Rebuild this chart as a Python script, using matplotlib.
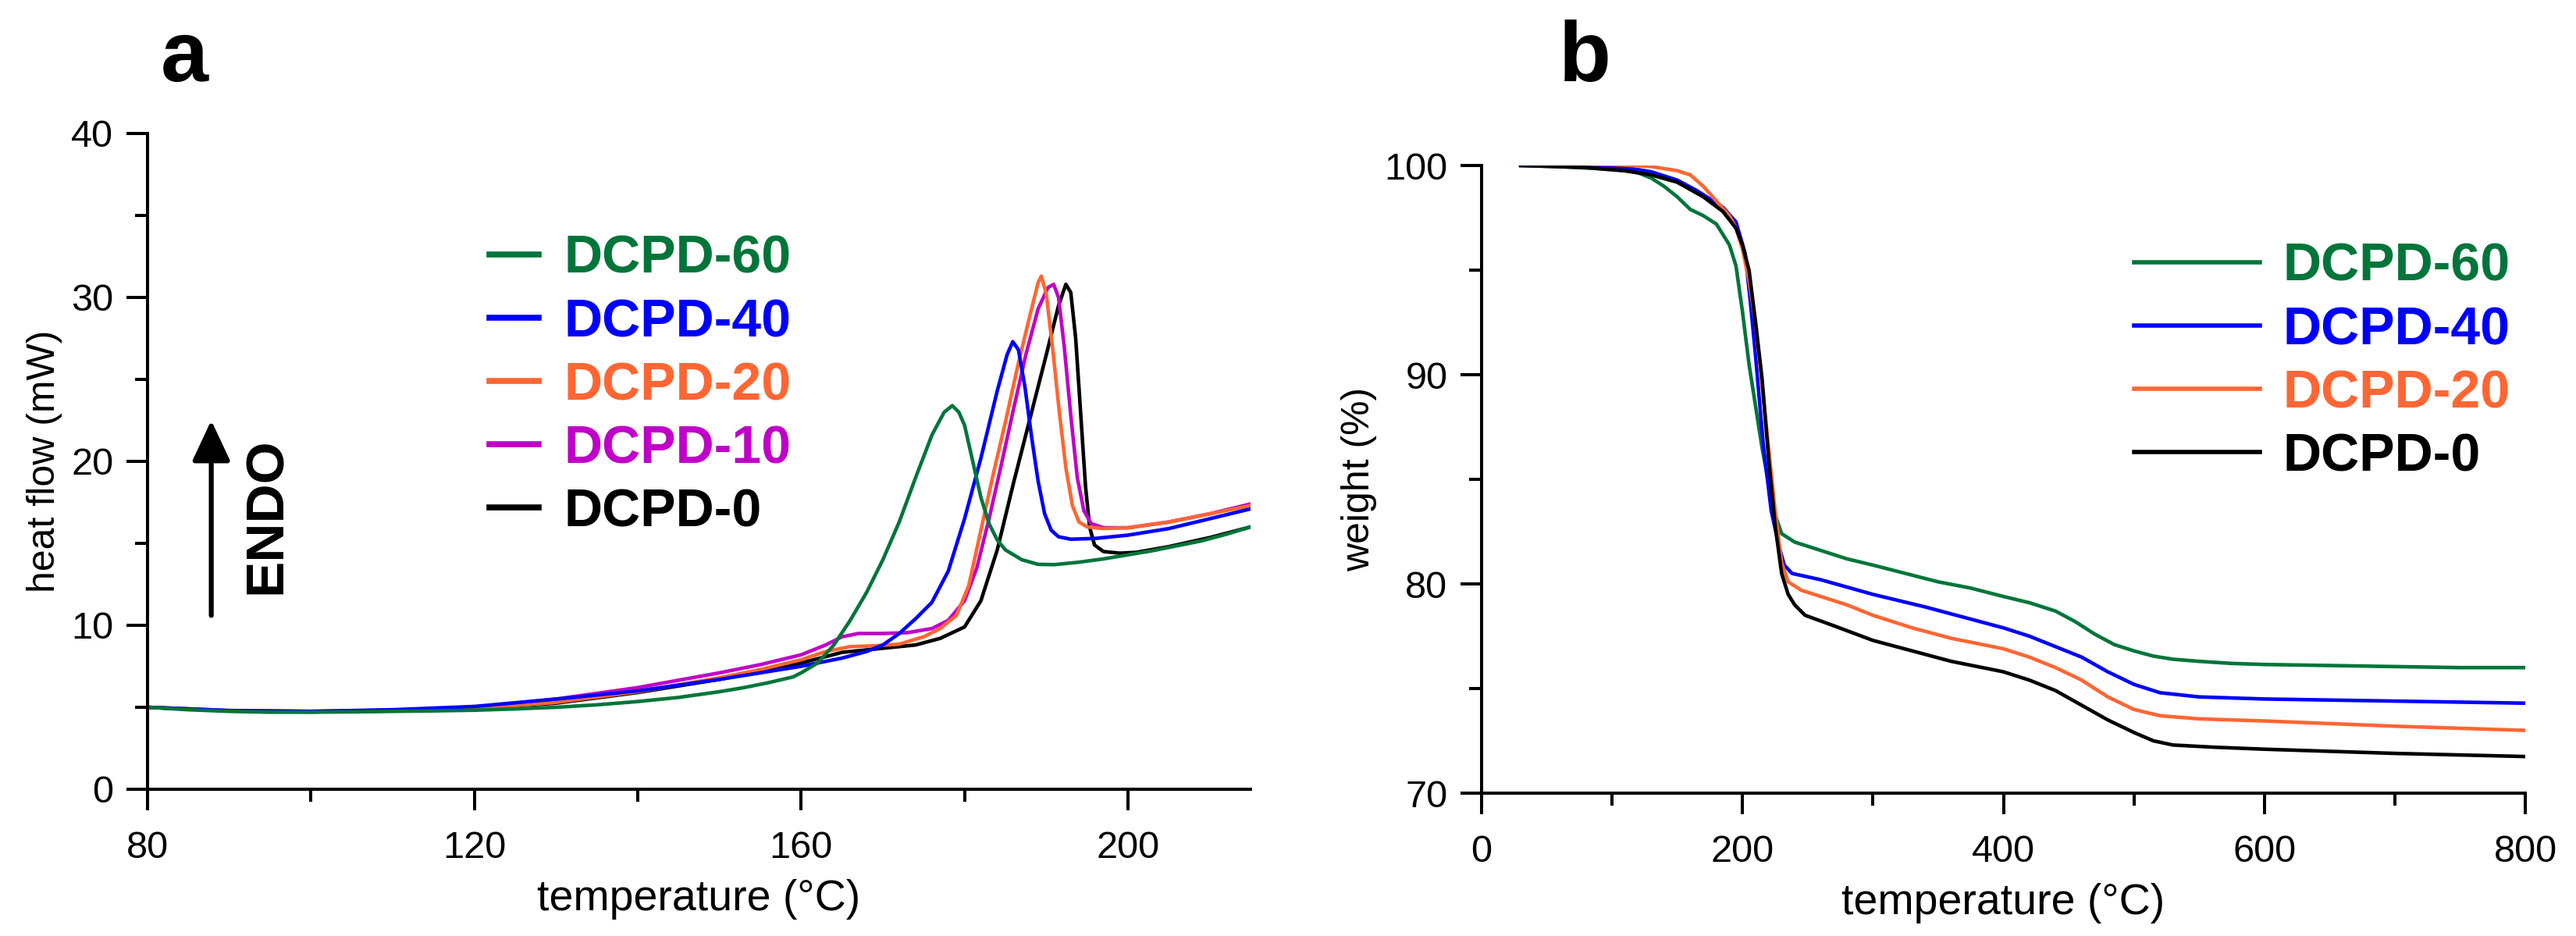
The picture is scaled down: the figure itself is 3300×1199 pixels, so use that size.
import matplotlib
matplotlib.use("Agg")
import matplotlib.pyplot as plt
from matplotlib.ticker import MultipleLocator

# ---- panel a : DSC (heat flow vs temperature) ----
dsc_labels = ["DCPD-60", "DCPD-40", "DCPD-20", "DCPD-10", "DCPD-0"]
dsc_colors = ["#00753a", "#0000ff", "#ff6633", "#c000c8", "#000000"]

t60 = [80, 85, 90, 95, 100, 105, 110, 115, 120, 125, 130, 135, 140, 145, 150, 153, 156, 159,
       160, 162, 164, 166, 168, 170, 172, 174, 176, 177.5, 178.5, 179.3, 180, 181, 182, 183, 184,
       185, 187, 189, 191, 194, 197, 200, 203, 206, 209, 212, 215]
h60 = [5.0, 4.85, 4.75, 4.7, 4.7, 4.72, 4.75, 4.78, 4.82, 4.9, 5.0, 5.15, 5.35, 5.6, 5.95, 6.2, 6.5, 6.85,
       7.1, 7.7, 8.8, 10.3, 12.0, 14.0, 16.3, 19.0, 21.6, 23.0, 23.4, 23.0, 22.2, 20.0, 17.8, 16.2, 15.2,
       14.6, 14.0, 13.72, 13.7, 13.85, 14.05, 14.3, 14.55, 14.85, 15.15, 15.55, 16.0]

t40 = [80, 90, 100, 110, 120, 130, 140, 150, 155, 160, 165, 168, 170, 172, 174, 176, 178, 180, 182,
       184, 185.2, 185.9, 186.6, 187.4, 188.2, 189, 189.8, 190.6, 191.5, 193, 196, 200, 205, 210, 215]
h40 = [5.0, 4.8, 4.75, 4.85, 5.05, 5.5, 6.0, 6.7, 7.1, 7.5, 8.0, 8.4, 8.8, 9.5, 10.4, 11.4, 13.3, 16.5, 20.2,
       24.3, 26.5, 27.3, 26.8, 24.5, 21.5, 18.8, 16.8, 15.8, 15.4, 15.25, 15.3, 15.5, 15.9, 16.5, 17.1]

t20 = [80, 90, 100, 110, 120, 130, 140, 150, 155, 160, 163, 166, 169, 172, 175, 177, 179, 180.5, 182,
       183.5, 185, 186.5, 188, 189, 189.4, 190, 190.8, 191.6, 192.4, 193.2, 194, 195, 197, 200, 205, 210, 215]
h20 = [5.0, 4.78, 4.72, 4.78, 4.9, 5.3, 5.95, 6.8, 7.3, 7.9, 8.4, 8.7, 8.75, 8.85, 9.3, 9.8, 10.6, 12.4, 15.8,
       19.2, 22.4, 25.8, 28.9, 30.9, 31.3, 30.2, 26.8, 23.0, 19.6, 17.3, 16.3, 16.0, 15.9, 15.95, 16.3, 16.8, 17.3]

t10 = [80, 90, 100, 110, 120, 130, 140, 150, 155, 160, 163, 165, 167, 170, 173, 176, 178, 180, 181.5,
       183, 184.5, 186, 187.5, 189, 190.2, 190.9, 191.5, 192.2, 193, 193.8, 194.6, 195.5, 197, 200, 205, 210, 215]
h10 = [5.0, 4.8, 4.75, 4.82, 5.0, 5.5, 6.2, 7.1, 7.6, 8.2, 8.8, 9.3, 9.5, 9.5, 9.55, 9.8, 10.3, 11.5, 13.5,
       16.5, 19.8, 23.2, 26.5, 29.3, 30.6, 30.8, 30.0, 27.0, 22.8, 19.0, 17.0, 16.2, 15.95, 15.95, 16.3, 16.8, 17.4]

t0 = [80, 90, 100, 110, 120, 130, 140, 150, 155, 160, 165, 170, 174, 177, 180, 182, 184, 186, 188, 190,
      191.5, 192.4, 193, 193.6, 194.2, 194.8, 195.3, 195.9, 197, 199, 201, 205, 210, 215]
h0 = [5.0, 4.78, 4.72, 4.78, 4.9, 5.25, 5.9, 6.7, 7.2, 7.7, 8.35, 8.6, 8.8, 9.2, 9.9, 11.5, 14.6, 18.7, 22.6, 26.5,
      29.5, 30.8, 30.3, 27.5, 23.0, 18.5, 16.0, 14.9, 14.5, 14.4, 14.45, 14.8, 15.35, 16.0]

# ---- panel b : TGA (weight vs temperature) ----
tga_labels = ["DCPD-60", "DCPD-40", "DCPD-20", "DCPD-0"]
tga_colors = ["#00753a", "#0000ff", "#ff6633", "#000000"]

g60_t = [30, 60, 90, 110, 120, 130, 140, 150, 160, 170, 180, 190, 195, 200, 205, 210, 215, 220, 225, 230,
         240, 260, 280, 300, 325, 350, 375, 400, 420, 440, 455, 470, 485, 500, 515, 530, 550, 575, 600,
         650, 700, 750, 800]
g60_w = [100.0, 99.95, 99.85, 99.75, 99.65, 99.4, 99.0, 98.5, 97.9, 97.6, 97.2, 96.2, 95.2, 93.0, 90.5, 88.5,
         86.5, 84.8, 83.3, 82.4, 82.0, 81.6, 81.2, 80.9, 80.5, 80.1, 79.8, 79.4, 79.1, 78.7, 78.2, 77.6, 77.1,
         76.8, 76.55, 76.4, 76.3, 76.2, 76.15, 76.1, 76.05, 76.0, 76.0]

g40_t = [30, 60, 90, 110, 130, 150, 165, 175, 185, 195, 202, 206, 210, 216, 222, 228, 232, 238, 260, 300,
         340, 370, 400, 420, 440, 460, 480, 500, 520, 550, 600, 700, 800]
g40_w = [100.0, 100.0, 99.95, 99.9, 99.7, 99.3, 98.8, 98.4, 98.0, 97.3, 95.8, 93.5, 90.9, 86.6, 83.5, 81.8,
         80.9, 80.5, 80.2, 79.5, 78.9, 78.4, 77.9, 77.5, 77.0, 76.5, 75.8, 75.2, 74.8, 74.6, 74.5, 74.4, 74.3]

g20_t = [30, 60, 100, 130, 150, 160, 170, 180, 190, 195, 200, 205, 210, 215, 220, 225, 230, 235, 245, 260,
         280, 300, 330, 360, 400, 420, 440, 460, 480, 500, 520, 550, 600, 700, 800]
g20_w = [100.1, 100.1, 100.05, 99.95, 99.75, 99.55, 99.0, 98.3, 97.6, 97.0, 96.0, 94.5, 92.5, 89.5, 86.5,
         83.5, 81.0, 80.1, 79.7, 79.4, 79.0, 78.5, 77.9, 77.4, 76.9, 76.5, 76.0, 75.4, 74.6, 74.0, 73.7,
         73.55, 73.45, 73.2, 73.0]

g0_t = [30, 80, 110, 130, 150, 170, 185, 195, 200, 205, 210, 215, 220, 225, 230, 235, 240, 248, 270, 300,
        330, 360, 400, 420, 440, 460, 480, 500, 515, 530, 560, 600, 700, 800]
g0_w = [100.0, 99.9, 99.75, 99.55, 99.2, 98.5, 97.8, 97.0, 96.2, 95.0, 92.5, 89.8, 86.0, 82.8, 80.5, 79.5,
        79.0, 78.5, 78.0, 77.3, 76.8, 76.3, 75.8, 75.4, 74.9, 74.2, 73.5, 72.9, 72.5, 72.3, 72.2, 72.1,
        71.9, 71.75]

W, H, DPI = 3300, 1199, 100
font = "Liberation Sans"
plt.rcParams["font.family"] = [font, "DejaVu Sans"]

fig = plt.figure(figsize=(W / DPI, H / DPI), dpi=DPI)


def px_axes(left, top, right, bottom):
    return fig.add_axes([left / W, 1 - bottom / H, (right - left) / W, (bottom - top) / H])


def style_axes(ax, xlabel, ylabel, ylab_x):
    for s in ("top", "right"):
        ax.spines[s].set_visible(False)
    for s in ("left", "bottom"):
        ax.spines[s].set_linewidth(2.9)
    ax.tick_params(which="major", direction="out", length=19.5, width=2.9, labelsize=35, pad=12)
    ax.tick_params(which="minor", direction="out", length=11.5, width=2.9)
    ax.tick_params(axis="x", which="major", pad=19)
    ax.set_xlabel(xlabel, fontsize=40, labelpad=12)
    ax.set_ylabel(ylabel, fontsize=36)
    ax.yaxis.set_label_coords(ylab_x, 0.5)


# panel a
ax1 = px_axes(189, 171, 1602, 1011)
dsc_t = [t60, t40, t20, t10, t0]
dsc_h = [h60, h40, h20, h10, h0]
lines = {}
for t, h, lab, col in reversed(list(zip(dsc_t, dsc_h, dsc_labels, dsc_colors))):
    lines[lab], = ax1.plot(t, h, color=col, lw=3.3, label=lab, solid_joinstyle="round")
ax1.set_xlim(80, 215)
ax1.set_ylim(0, 40)
ax1.set_xticks([80, 120, 160, 200])
ax1.xaxis.set_minor_locator(MultipleLocator(20))
ax1.set_yticks([0, 10, 20, 30, 40])
ax1.yaxis.set_minor_locator(MultipleLocator(5))
style_axes(ax1, "temperature (°C)", "heat flow (mW)", (80 - 189) / 1413)

leg1 = ax1.legend([lines[l] for l in dsc_labels], dsc_labels, loc="upper left",
                  bbox_to_anchor=(627 / W, 1 - 300 / H), bbox_transform=fig.transFigure,
                  frameon=False, borderpad=0, borderaxespad=0, handlelength=0.93,
                  handletextpad=0.47, labelspacing=0.25,
                  prop={"family": font, "weight": "bold", "size": 49})
for txt, ln in zip(leg1.get_texts(), leg1.get_lines()):
    txt.set_color(ln.get_color())
    ln.set_linewidth(5.5)

ax1.annotate("", xy=(87.8, 22.5), xytext=(87.8, 10.6),
             arrowprops=dict(arrowstyle="-|>,head_length=1.6,head_width=0.75",
                             mutation_scale=20, lw=4.5, color="black", shrinkA=0, shrinkB=0))
ax1.text(94.6, 16.7, "ENDO", rotation=90, ha="center", va="center",
         fontsize=50, fontweight="bold")

# panel b
ax2 = px_axes(1898, 212, 3235, 1016)
tga_t = [g60_t, g40_t, g20_t, g0_t]
tga_w = [g60_w, g40_w, g20_w, g0_w]
for t, w, lab, col in zip(tga_t, tga_w, tga_labels, tga_colors):
    ax2.plot(t, w, color=col, lw=3.3, label=lab, solid_joinstyle="round")
ax2.set_xlim(0, 800)
ax2.set_ylim(70, 100)
ax2.set_xticks([0, 200, 400, 600, 800])
ax2.xaxis.set_minor_locator(MultipleLocator(100))
ax2.set_yticks([70, 80, 90, 100])
ax2.yaxis.set_minor_locator(MultipleLocator(5))
style_axes(ax2, "temperature (°C)", "weight (%)", (1764 - 1898) / 1337)

leg2 = ax2.legend(loc="upper left", bbox_to_anchor=(2734 / W, 1 - 310 / H),
                  bbox_transform=fig.transFigure, frameon=False, borderpad=0,
                  borderaxespad=0, handlelength=2.36, handletextpad=0.44, labelspacing=0.25,
                  prop={"family": font, "weight": "bold", "size": 49})
for txt, ln in zip(leg2.get_texts(), leg2.get_lines()):
    txt.set_color(ln.get_color())
    ln.set_linewidth(4)

# panel letters
fig.text(236 / W, 1 - 104 / H, "a", ha="center", va="baseline", fontsize=79, fontweight="bold")
fig.text(2030 / W, 1 - 104 / H, "b", ha="center", va="baseline", fontsize=79, fontweight="bold")

fig.savefig("out.png", dpi=DPI)
